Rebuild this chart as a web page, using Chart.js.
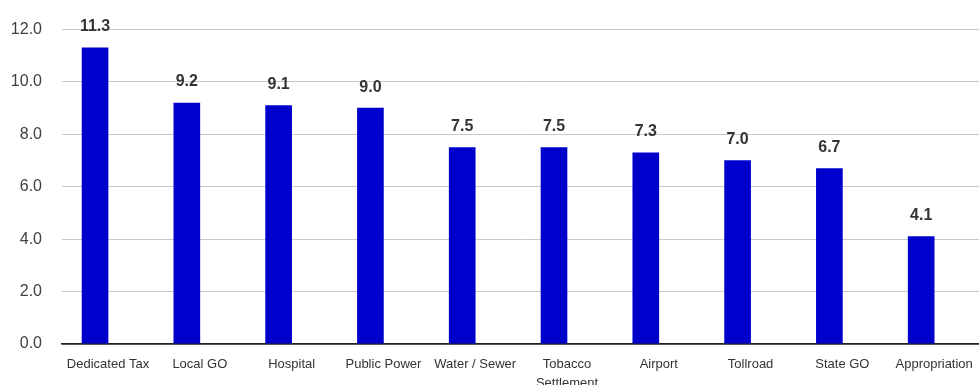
<!DOCTYPE html>
<html>
<head>
<meta charset="utf-8">
<script src="https://cdn.jsdelivr.net/npm/chart.js@4"></script>
<style>
  html, body { margin: 0; padding: 0; background: #fff; }
  #wrap { width: 979px; height: 385px; }
</style>
</head>
<body>
<div id="wrap"><canvas id="chart"></canvas></div>
<script>
// Chart data
const categories = [
  "Dedicated Tax", "Local GO", "Hospital", "Public Power", "Water / Sewer",
  ["Tobacco", "Settlement"], "Airport", "Tollroad", "State GO", "Appropriation"
];
const values = [11.3, 9.2, 9.1, 9.0, 7.5, 7.5, 7.3, 7.0, 6.7, 4.1];
const yTicks = [0, 2, 4, 6, 8, 10, 12];

// value labels above each bar
const valueLabels = {
  id: "valueLabels",
  afterDatasetsDraw(chart) {
    const ctx = chart.ctx;
    const meta = chart.getDatasetMeta(0);
    ctx.save();
    ctx.font = "bold 16px 'Liberation Sans', Arial, sans-serif";
    ctx.fillStyle = "#333333";
    ctx.textAlign = "center";
    ctx.textBaseline = "middle";
    meta.data.forEach((bar, i) => {
      ctx.fillText(values[i].toFixed(1), bar.x, bar.y - 21);
    });
    ctx.restore();
  },
};

const ctx = document.getElementById("chart").getContext("2d");

new Chart(ctx, {
  type: "bar",
  data: {
    datasets: [
      {
        data: values.map((v, i) => ({ x: i, y: v })),
        backgroundColor: "#0000cc",
        borderWidth: 0,
        barThickness: 26,
      },
    ],
  },
  options: {
    responsive: true,
    maintainAspectRatio: false,
    animation: false,
    layout: { padding: { top: 28, right: 0, bottom: 0, left: 0 } },
    plugins: {
      legend: { display: false },
      tooltip: { enabled: false },
    },
    scales: {
      x: {
        type: "linear",
        offset: false,
        min: -0.36,
        max: 9.63,
        grid: { display: false },
        border: { display: true, color: "#222222", width: 1.5 },
        afterBuildTicks: (scale) => {
          scale.ticks = categories.map((_, i) => ({ value: i }));
        },
        afterFit: (scale) => {
          scale.height = 41;
        },
        ticks: {
          autoSkip: false,
          maxRotation: 0,
          padding: 3,
          labelOffset: 13,
          color: "#333333",
          font: { family: "'Liberation Sans', Arial, sans-serif", size: 13, lineHeight: 1.45 },
          callback: (v) => categories[v],
        },
      },
      y: {
        min: 0,
        max: 12,
        afterBuildTicks: (scale) => {
          scale.ticks = yTicks.map((v) => ({ value: v }));
        },
        afterFit: (scale) => {
          scale.width = 62;
        },
        border: { display: false },
        grid: {
          drawTicks: false,
          color: (c) => (c.tick && c.tick.value === 0 ? "#222222" : "#c8c8c8"),
          lineWidth: (c) => (c.tick && c.tick.value === 0 ? 1.5 : 1),
        },
        ticks: {
          padding: 20,
          color: "#404040",
          font: { family: "'Liberation Sans', Arial, sans-serif", size: 16 },
          callback: (v) => v.toFixed(1),
        },
      },
    },
  },
  plugins: [valueLabels],
});
</script>
</body>
</html>
